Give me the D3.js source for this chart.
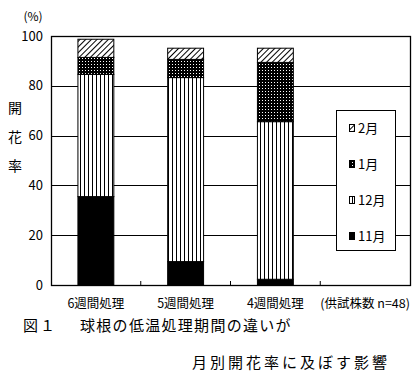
<!DOCTYPE html>
<html>
<head>
<meta charset="utf-8">
<script src="https://cdn.jsdelivr.net/npm/d3@7"></script>
<style>
  body { margin: 0; background: #fff; }
  text { font-family: "Noto Sans CJK JP", "DejaVu Sans", sans-serif; fill: #000; }
</style>
</head>
<body>
<div id="chart"></div>
<script>
// data
var categories = ["6週間処理", "5週間処理", "4週間処理", "(供試株数 n=48)"];
var months = ["11月", "12月", "1月", "2月"];
var nov = [35.5, 9.4, 2.3];
var dec = [49.1, 73.9, 63.3];
var jan = [6.8, 7.3, 23.8];
var feb = [7.3, 4.5, 5.7];
var yTicks = [0, 20, 40, 60, 80, 100];

var rows = categories.slice(0, 3).map(function(c, i) {
    return { cat: c, "11月": nov[i], "12月": dec[i], "1月": jan[i], "2月": feb[i] };
});

var svg = d3.select("#chart").append("svg")
    .attr("width", 420)
    .attr("height", 384);

// fill patterns
var defs = svg.append("defs");
var pv = defs.append("pattern").attr("id", "p-dec")
    .attr("patternUnits", "userSpaceOnUse").attr("width", 4).attr("height", 4);
pv.append("rect").attr("width", 4).attr("height", 4).attr("fill", "#fff");
pv.append("rect").attr("x", 0).attr("width", 1).attr("height", 4).attr("fill", "#000");

var pd = defs.append("pattern").attr("id", "p-jan")
    .attr("patternUnits", "userSpaceOnUse").attr("width", 3).attr("height", 3);
pd.append("rect").attr("width", 3).attr("height", 3).attr("fill", "#000");
pd.append("rect").attr("x", 1).attr("y", 1).attr("width", 1).attr("height", 1).attr("fill", "#fff");

var ph = defs.append("pattern").attr("id", "p-feb")
    .attr("patternUnits", "userSpaceOnUse").attr("width", 4).attr("height", 4)
    .attr("patternTransform", "rotate(45)");
ph.append("rect").attr("width", 4).attr("height", 4).attr("fill", "#fff");
ph.append("rect").attr("width", 1).attr("height", 4).attr("fill", "#000");

var fills = { "11月": "#000", "12月": "url(#p-dec)", "1月": "url(#p-jan)", "2月": "url(#p-feb)" };

var plotL = 51, plotR = 410, plotT = 36, plotB = 285;

var x = d3.scaleBand().domain(categories).range([plotL, plotR])
    .paddingInner(0.6).paddingOuter(0.3);
var y = d3.scaleLinear().domain([0, 100]).range([plotB, plotT]);

// gridlines
svg.append("g").selectAll("line")
    .data(yTicks.slice(1, -1))
    .join("line")
    .attr("x1", plotL).attr("x2", plotR)
    .attr("y1", function(d) { return Math.round(y(d)) + 0.5; })
    .attr("y2", function(d) { return Math.round(y(d)) + 0.5; })
    .attr("stroke", "#000");

// stacked bars
var stack = d3.stack().keys(months)(rows);
svg.append("g").selectAll("g")
    .data(stack)
    .join("g")
    .attr("fill", function(d) { return fills[d.key]; })
    .selectAll("rect")
    .data(function(d) { return d; })
    .join("rect")
    .attr("x", function(d) { return x(d.data.cat); })
    .attr("y", function(d) { return y(d[1]); })
    .attr("width", x.bandwidth())
    .attr("height", function(d) { return y(d[0]) - y(d[1]); })
    .attr("stroke", "#000")
    .attr("stroke-width", 1);

// frame
svg.append("rect")
    .attr("x", plotL + 0.5).attr("y", plotT + 0.5)
    .attr("width", plotR - plotL).attr("height", plotB - plotT)
    .attr("fill", "none").attr("stroke", "#000").attr("stroke-width", 1.3);

// category separator ticks
svg.append("g").selectAll("line")
    .data(categories.slice(1))
    .join("line")
    .attr("x1", function(d) { return x(d) - x.step() * 0.3; })
    .attr("x2", function(d) { return x(d) - x.step() * 0.3; })
    .attr("y1", plotB - 4).attr("y2", plotB)
    .attr("stroke", "#000");

// y axis labels
var yAxis = svg.append("g")
    .attr("transform", "translate(" + plotL + ",0)")
    .call(d3.axisLeft(y).tickValues(yTicks).tickSize(0).tickPadding(8));
yAxis.select(".domain").remove();
yAxis.selectAll("text")
    .style("font-family", "'Noto Sans CJK JP', sans-serif")
    .style("font-size", "13px");

// x axis labels
var xAxis = svg.append("g")
    .attr("transform", "translate(0," + plotB + ")")
    .call(d3.axisBottom(x).tickSize(0).tickPadding(14));
xAxis.select(".domain").remove();
xAxis.selectAll("text")
    .style("font-family", "'Noto Sans CJK JP', sans-serif")
    .style("font-size", "12.5px");

// unit and y title
svg.append("text").attr("x", 33).attr("y", 21)
    .attr("text-anchor", "middle").style("font-size", "12px").text("(%)");
svg.append("g").selectAll("text")
    .data(["開", "花", "率"])
    .join("text")
    .attr("x", 15)
    .attr("y", function(d, i) { return 113 + i * 29; })
    .attr("text-anchor", "middle")
    .style("font-size", "14px")
    .text(function(d) { return d; });

// legend
var legend = svg.append("g");
legend.append("rect")
    .attr("x", 336.5).attr("y", 110.5).attr("width", 59).attr("height", 140)
    .attr("fill", "#fff").attr("stroke", "#000");
var items = legend.selectAll("g")
    .data(months.slice().reverse())
    .join("g")
    .attr("transform", function(d, i) { return "translate(0," + (128 + i * 36) + ")"; });
items.append("rect")
    .attr("x", 349.5).attr("y", -3.5).attr("width", 5).attr("height", 7)
    .attr("fill", function(d) { return fills[d]; })
    .attr("stroke", "#000");
items.append("text")
    .attr("x", 358).attr("y", 5)
    .style("font-size", "13px")
    .text(function(d) { return d; });

// caption
svg.append("text").attr("x", 23).attr("y", 331)
    .style("font-size", "15px").style("letter-spacing", "2px").text("図１");
svg.append("text").attr("x", 80).attr("y", 331)
    .style("font-size", "15px").style("letter-spacing", "1.3px").text("球根の低温処理期間の違いが");
svg.append("text").attr("x", 192).attr("y", 368)
    .style("font-size", "15px").style("letter-spacing", "3px").text("月別開花率に及ぼす影響");
</script>
</body>
</html>
